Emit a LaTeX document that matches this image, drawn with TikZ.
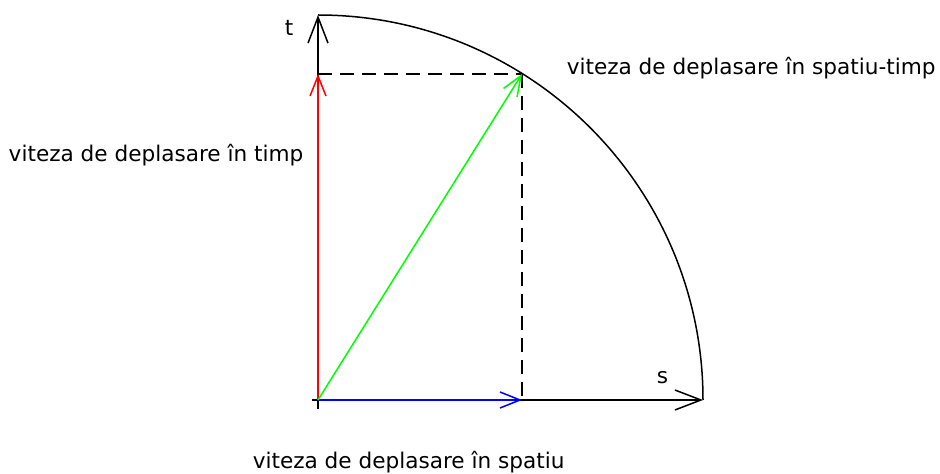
\documentclass[tikz,border=0pt]{standalone}
\usepackage{fontspec}
\setmainfont{DejaVu Sans}
\usetikzlibrary{arrows.meta}
\begin{document}
\begin{tikzpicture}[x=1pt,y=1pt,line width=1.5pt,
  bigtip/.style={-{Straight Barb[length=26pt,width=20pt,line width=1.5pt]}},
  smalltip/.style={-{Straight Barb[length=20pt,width=16pt,line width=1.5pt]}},
  guide/.style={dashed,dash pattern=on 14pt off 8pt},
  lbl/.style={inner sep=0pt,anchor=west,font=\fontsize{21.6}{24}\selectfont}]
\useasboundingbox (0,0) rectangle (940,474);
\coordinate (O) at (318,74);
\coordinate (T) at (318,459);
\coordinate (S) at (703,74);
\coordinate (P) at (522,400);
\coordinate (A) at (318,400);
\coordinate (B) at (522,74);
\coordinate (L) at (312,74);
\coordinate (D) at (318,65);
% axes
\draw[bigtip] (O) -- (T);
\draw[bigtip] (O) -- (S);
\draw (L) -- (O) -- (D);
% circle
\draw (T) arc[start angle=90,end angle=0,radius=385];
% dashed projections
\draw[guide] (A) -- (P);
\draw[guide] (P) -- (B);
% vectors
\draw[red,smalltip] (O) -- (A);
\draw[blue,smalltip] (O) -- (B);
\draw[green,smalltip] (O) -- (P);
% labels
\node[lbl] (tl) at (284,446) {t};
\node[lbl] (sl) at (656,96) {s};
\node[lbl] (lt) at (8,319) {viteza de deplasare în timp};
\node[lbl] (lst) at (566,406) {viteza de deplasare în spatiu-timp};
\node[lbl] (ls) at (252,12) {viteza de deplasare în spatiu};
\end{tikzpicture}
\end{document}
